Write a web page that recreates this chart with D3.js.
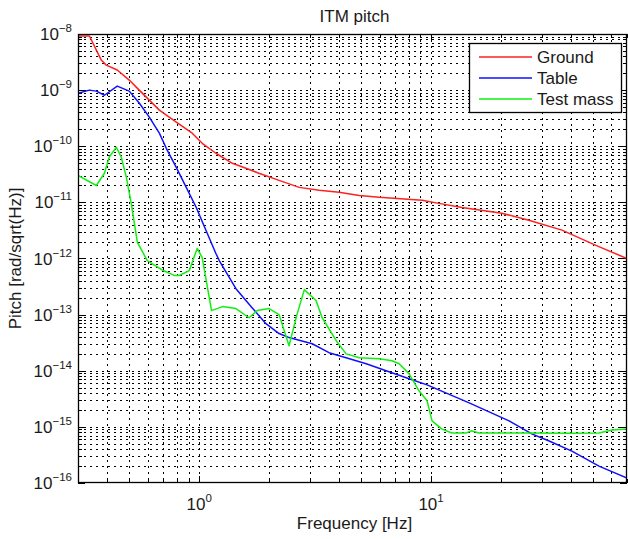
<!DOCTYPE html>
<html>
<head>
<meta charset="utf-8">
<script src="https://cdn.jsdelivr.net/npm/d3@7/dist/d3.min.js"></script>
<style>
  html, body { margin: 0; padding: 0; background: #fff; }
  svg { display: block; font-family: "Liberation Sans", Arial, Helvetica, sans-serif; }
</style>
</head>
<body>
<svg id="chart" width="628" height="539"></svg>
<script>
// ---------- data ----------
const title = "ITM pitch";
const xLabel = "Frequency [Hz]";
const yLabel = "Pitch [rad/sqrt(Hz)]";
const seriesNames = ["Ground", "Table", "Test mass"];
const seriesColors = ["#ff2020", "#1010ff", "#10f010"];

const xTickLabels = [{v: 1, e: "0"}, {v: 10, e: "1"}];
const yTickLabels = [
  {v: 1e-8, e: "\u22128"}, {v: 1e-9, e: "\u22129"}, {v: 1e-10, e: "\u221210"},
  {v: 1e-11, e: "\u221211"}, {v: 1e-12, e: "\u221212"}, {v: 1e-13, e: "\u221213"},
  {v: 1e-14, e: "\u221214"}, {v: 1e-15, e: "\u221215"}, {v: 1e-16, e: "\u221216"}
];

const groundF = [0.3, 0.336, 0.378, 0.397, 0.443, 0.499, 0.535, 0.591, 0.673, 0.796, 0.933, 1.03, 1.18, 1.39, 1.59, 1.81, 2.21, 2.70, 3.29, 4.01, 4.90, 5.97, 9.15, 10.8, 13.6, 20.2, 26.4, 36.7, 51.4, 70];
const groundV = [9.2e-9, 9.2e-9, 3.43e-9, 2.79e-9, 2.28e-9, 1.51e-9, 1.13e-9, 7.5e-10, 4.4e-10, 2.68e-10, 1.71e-10, 1.13e-10, 7.5e-11, 4.97e-11, 4.05e-11, 3.3e-11, 2.47e-11, 1.85e-11, 1.64e-11, 1.51e-11, 1.33e-11, 1.23e-11, 1.09e-11, 9.6e-12, 8.1e-12, 6.4e-12, 4.8e-12, 3.2e-12, 1.71e-12, 1.0e-12];

const tableF = [0.3, 0.336, 0.360, 0.390, 0.443, 0.499, 0.551, 0.609, 0.673, 0.721, 0.796, 0.879, 0.971, 1.07, 1.18, 1.22, 1.44, 1.69, 1.94, 2.21, 2.44, 3.07, 3.63, 4.30, 5.25, 6.40, 8.04, 9.61, 14.6, 21.7, 27.2, 32.3, 40.5, 53.0, 70];
const tableV = [8.8e-10, 1.0e-9, 9.6e-10, 8.1e-10, 1.18e-9, 9.6e-10, 5.9e-10, 3.3e-10, 1.71e-10, 9.2e-11, 4.2e-11, 1.85e-11, 8.1e-12, 3.16e-12, 1.23e-12, 9.2e-13, 2.9e-13, 1.33e-13, 6.9e-14, 4.6e-14, 3.9e-14, 3.03e-14, 2.1e-14, 1.71e-14, 1.33e-14, 1.0e-14, 7.2e-15, 5.6e-15, 2.68e-15, 1.28e-15, 7.5e-16, 5.6e-16, 3.7e-16, 2.0e-16, 1.23e-16];

const massF = [0.3, 0.360, 0.390, 0.409, 0.439, 0.461, 0.485, 0.509, 0.541, 0.597, 0.70, 0.78, 0.820, 0.906, 0.980, 1.03, 1.13, 1.26, 1.44, 1.64, 1.78, 2.00, 2.21, 2.44, 2.64, 2.84, 3.19, 3.39, 3.90, 4.30, 4.90, 5.97, 6.79, 7.28, 8.04, 8.87, 9.61, 10.1, 11.1, 12.3, 14.2, 14.9, 16.1, 25, 40, 53.0, 60.3, 70];
const massV = [3.03e-11, 2.0e-11, 3.3e-11, 6.4e-11, 9.6e-11, 6.4e-11, 2.79e-11, 9.6e-12, 1.93e-12, 9.2e-13, 6.1e-13, 5.0e-13, 4.97e-13, 6.1e-13, 1.51e-12, 1.04e-12, 1.18e-13, 1.39e-13, 1.28e-13, 8.8e-14, 1.18e-13, 1.28e-13, 1.0e-13, 2.79e-14, 1.0e-13, 2.79e-13, 1.78e-13, 8.8e-14, 3.43e-14, 2.0e-14, 1.71e-14, 1.64e-14, 1.51e-14, 1.33e-14, 8.8e-15, 4.4e-15, 2.91e-15, 1.28e-15, 9.2e-16, 7.8e-16, 7.8e-16, 8.5e-16, 7.8e-16, 7.8e-16, 7.7e-16, 7.8e-16, 8.8e-16, 9.2e-16];

// ---------- layout ----------
const svg = d3.select("#chart");
const L = 78, R = 627, T = 34, B = 483;
const x = d3.scaleLog().domain([0.3, 70]).range([L, R]);
const y = d3.scaleLog().domain([1e-16, 1e-8]).range([B, T]);
const font = 17, supFont = 11.5;

svg.append("rect").attr("width", 628).attr("height", 539).attr("fill", "#fff");

const xTicks = x.ticks();
const yTicks = y.ticks();
const isMajor = v => Math.abs(Math.log10(v) - Math.round(Math.log10(v))) < 1e-6;

// grid (dotted, MATLAB style)
const grid = svg.append("g").attr("stroke", "#000").attr("stroke-width", 1)
  .attr("stroke-dasharray", "2,4").attr("shape-rendering", "crispEdges");
grid.selectAll("line.gx").data(xTicks.filter(v => x(v) > L + 1 && x(v) < R - 1)).join("line")
  .attr("x1", d => Math.round(x(d)) + 0.5).attr("x2", d => Math.round(x(d)) + 0.5)
  .attr("y1", T).attr("y2", B);
grid.selectAll("line.gy").data(yTicks.filter(v => y(v) > T + 1 && y(v) < B - 1)).join("line")
  .attr("y1", d => Math.round(y(d)) + 0.5).attr("y2", d => Math.round(y(d)) + 0.5)
  .attr("x1", L).attr("x2", R);

// ticks (inside, all four sides)
const tk = svg.append("g").attr("stroke", "#000").attr("stroke-width", 1).attr("shape-rendering", "crispEdges");
xTicks.forEach(v => {
  const len = isMajor(v) ? 7 : 4, px = Math.round(x(v)) + 0.5;
  tk.append("line").attr("x1", px).attr("x2", px).attr("y1", B).attr("y2", B - len);
  tk.append("line").attr("x1", px).attr("x2", px).attr("y1", T).attr("y2", T + len);
});
yTicks.forEach(v => {
  const len = isMajor(v) ? 7 : 4, py = Math.round(y(v)) + 0.5;
  tk.append("line").attr("y1", py).attr("y2", py).attr("x1", L).attr("x2", L + len);
  tk.append("line").attr("y1", py).attr("y2", py).attr("x1", R).attr("x2", R - len);
});

// curves
svg.append("defs").append("clipPath").attr("id", "clip")
  .append("rect").attr("x", L).attr("y", T).attr("width", R - L).attr("height", B - T);
const line = d3.line().x(d => x(d[0])).y(d => y(d[1]));
const series = [[groundF, groundV], [tableF, tableV], [massF, massV]];
const curves = svg.append("g").attr("clip-path", "url(#clip)");
series.forEach((s, i) => {
  curves.append("path").datum(d3.zip(s[0], s[1]))
    .attr("d", line).attr("fill", "none")
    .attr("stroke", seriesColors[i]).attr("stroke-width", 1.5)
    .attr("stroke-linejoin", "round");
});

// axes box
svg.append("rect").attr("x", L + 0.5).attr("y", T + 0.5).attr("width", R - L - 1).attr("height", B - T - 1)
  .attr("fill", "none").attr("stroke", "#000").attr("stroke-width", 1.3);

// tick labels
const txtColor = "#1a1a1a";
yTickLabels.forEach(t => {
  const te = svg.append("text").attr("x", 72).attr("y", y(t.v) + 6)
    .attr("text-anchor", "end").attr("font-size", font).attr("fill", txtColor);
  te.append("tspan").text("10");
  te.append("tspan").attr("font-size", supFont).attr("dy", -8).text(t.e);
});
xTickLabels.forEach(t => {
  const te = svg.append("text").attr("x", x(t.v)).attr("y", 510)
    .attr("text-anchor", "middle").attr("font-size", font).attr("fill", txtColor);
  te.append("tspan").text("10");
  te.append("tspan").attr("font-size", supFont).attr("dy", -8).text(t.e);
});

// axis labels & title
svg.append("text").attr("x", (L + R) / 2 + 2).attr("y", 529).attr("text-anchor", "middle")
  .attr("font-size", font).attr("fill", txtColor).text(xLabel);
svg.append("text").attr("transform", `translate(21,${(T + B) / 2}) rotate(-90)`)
  .attr("text-anchor", "middle").attr("font-size", font).attr("fill", txtColor).text(yLabel);
svg.append("text").attr("x", (L + R) / 2 + 2).attr("y", 22).attr("text-anchor", "middle")
  .attr("font-size", font).attr("fill", txtColor).text(title);

// legend
const lg = svg.append("g");
lg.append("rect").attr("x", 469.5).attr("y", 43.5).attr("width", 152).attr("height", 69)
  .attr("fill", "#fff").attr("stroke", "#000").attr("stroke-width", 1.3);
seriesNames.forEach((n, i) => {
  const cy = 57 + i * 21;
  lg.append("line").attr("x1", 479).attr("x2", 532).attr("y1", cy).attr("y2", cy)
    .attr("stroke", seriesColors[i]).attr("stroke-width", 1.5);
  lg.append("text").attr("x", 537).attr("y", cy + 6).attr("font-size", font)
    .attr("fill", txtColor).text(n);
});
</script>
</body>
</html>
